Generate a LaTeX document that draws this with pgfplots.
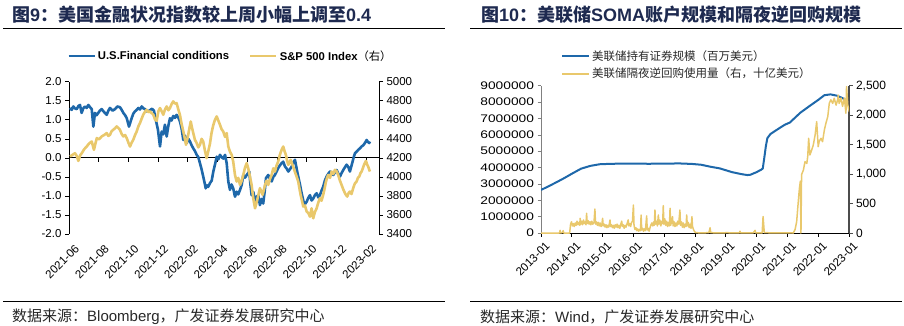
\documentclass[border=0pt]{standalone}
\usepackage{pgfplots}
\pgfplotsset{compat=1.18}
\usepackage{fontspec}
\setmainfont{Liberation Sans}
\newfontfamily\cjk{Noto Sans CJK SC}
\newfontfamily\widefont{Liberation Sans}[FakeStretch=1.25]
\definecolor{fblue}{RGB}{30,104,170}
\definecolor{fyellow}{RGB}{233,200,108}
\definecolor{tnavy}{RGB}{30,42,80}
\definecolor{ftext}{RGB}{40,40,40}

\pgfplotsset{
  lpanel/.style={at={(69pt,91pt)}, anchor=south west, scale only axis, width=310pt, height=152.3pt, xmin=0, xmax=20.88},
  rpanel/.style={at={(541pt,92pt)}, anchor=south west, scale only axis, width=308pt, height=147.3pt, xmin=0, xmax=10},
  tickfont/.style={font=\fontsize{11.5}{12}\selectfont},
}

\begin{document}
\begin{tikzpicture}
\path (0pt,0pt) rectangle (904pt,325pt);

% ---------- titles, rules, sources ----------
\node[anchor=west, inner sep=0pt, text=tnavy, font=\fontsize{18}{20}\selectfont\bfseries] at (12pt,310pt) {{\cjk 图}9{\cjk ：美国金融状况指数较上周小幅上调至}0.4};
\node[anchor=west, inner sep=0pt, text=tnavy, font=\fontsize{18}{20}\selectfont\bfseries] at (481pt,310pt) {{\cjk 图}10{\cjk ：美联储}SOMA{\cjk 账户规模和隔夜逆回购规模}};
\draw[line width=1pt] (3pt,296.7pt) -- (445pt,296.7pt);
\draw[line width=1pt] (470pt,296.7pt) -- (902pt,296.7pt);
\draw[line width=1pt] (3pt,23.3pt) -- (445pt,23.3pt);
\draw[line width=1pt] (470pt,23.3pt) -- (902pt,23.3pt);
\node[anchor=west, inner sep=0pt, text=ftext, font=\fontsize{15}{16}\selectfont] at (12pt,8pt) {{\cjk 数据来源：}Bloomberg{\cjk ，广发证券发展研究中心}};
\node[anchor=west, inner sep=0pt, text=ftext, font=\fontsize{15}{16}\selectfont] at (480pt,8pt) {{\cjk 数据来源：}Wind{\cjk ，广发证券发展研究中心}};

% ---------- left panel: zero line with ticks ----------
\begin{axis}[lpanel, ymin=-2, ymax=2, axis x line*=middle, axis y line=none,
  xtick={2,4,...,20}, xticklabels={}, tick align=outside, major tick length=4pt,
  x axis line style={line width=0.8pt, black}, xtick style={black, line width=0.6pt}]
\end{axis}

% ---------- left panel: FCI (left axis) ----------
\begin{axis}[lpanel, ymin=-2, ymax=2, axis x line*=bottom, axis y line*=left,
  x axis line style={draw=none}, xtick style={draw=none},
  xtick={0,2,...,20},
  xticklabels={2021-06,2021-08,2021-10,2021-12,2022-02,2022-04,2022-06,2022-08,2022-10,2022-12,2023-02},
  ytick={-2,-1.5,-1,-0.5,0,0.5,1,1.5,2},
  yticklabels={-2.0,-1.5,-1.0,-0.5,0.0,0.5,1.0,1.5,2.0},
  tick align=outside, major tick length=4pt,
  y axis line style={black, line width=0.6pt}, ytick style={black, line width=0.6pt},
  xticklabel style={tickfont, rotate=45, anchor=east, xshift=3pt, yshift=-12pt},
  yticklabel style={tickfont}]
\addplot[fblue, line width=2.6pt, line join=round] coordinates {
(0.07,1.31)(0.18,1.26)(0.29,1.35)(0.40,1.30)(0.52,1.28)(0.63,1.36)(0.74,1.39)(0.85,1.18)(0.96,1.30)(1.08,1.35)(1.19,1.31)(1.30,1.39)(1.42,1.33)(1.53,1.28)
(1.64,0.82)(1.75,1.18)(1.86,1.12)(1.97,1.18)(2.08,1.24)(2.20,1.28)(2.37,1.20)(2.54,1.13)(2.65,1.24)(2.76,1.31)(2.93,1.24)(3.10,1.28)(3.26,1.35)(3.43,1.33)
(3.55,1.26)(3.66,1.18)(3.78,1.12)(3.89,1.04)(4.04,0.82)(4.22,1.04)(4.33,1.16)(4.44,1.22)(4.56,1.26)(4.67,1.31)(4.78,1.27)(4.90,1.35)(5.01,1.30)(5.12,1.28)
(5.28,1.21)(5.45,1.25)(5.59,1.29)(5.72,1.24)(5.79,1.10)(5.99,0.74)(6.13,0.30)(6.24,0.69)(6.35,0.62)(6.46,0.87)(6.58,0.56)
(6.69,0.84)(6.80,1.04)(6.91,0.98)(7.02,1.10)(7.14,1.05)(7.25,1.13)(7.36,1.06)(7.47,0.96)(7.58,0.78)(7.70,0.47)(7.82,0.58)(7.93,0.39)(8.04,0.50)(8.15,0.43)(8.26,0.33)(8.37,0.25)
(8.48,0.18)(8.60,0.08)(8.71,0.02)(8.82,-0.14)(8.93,-0.30)(9.04,-0.49)(9.13,-0.65)(9.21,-0.80)(9.30,-0.72)(9.38,-0.76)(9.50,-0.66)(9.61,-0.60)(9.72,-0.36)(9.83,-0.18)(9.95,0.03)
(10.06,-0.04)(10.17,0.08)(10.28,0.02)(10.39,-0.02)(10.51,0.08)(10.62,-0.14)(10.73,-0.62)(10.84,-0.84)(10.95,-0.70)(11.06,-0.80)(11.18,-1.02)
(11.29,-0.89)(11.40,-0.96)(11.52,-0.84)(11.63,-0.71)(11.74,-0.45)(11.86,-0.52)(11.97,-0.45)(12.14,-0.36)(12.22,-0.70)(12.30,-0.98)(12.42,-0.90)(12.53,-1.15)
(12.64,-1.02)(12.75,-0.98)(12.86,-1.24)(12.97,-1.08)(13.08,-1.20)(13.18,-0.88)(13.27,-0.53)(13.42,-0.45)(13.54,-0.56)(13.65,-0.62)(13.76,-0.50)(13.87,-0.45)(13.98,-0.36)(14.09,-0.27)
(14.20,-0.20)(14.32,-0.14)(14.43,-0.10)(14.55,-0.23)(14.66,-0.28)(14.77,-0.36)(14.88,-0.30)(15.00,-0.23)(15.11,-0.12)(15.22,-0.05)(15.37,-0.36)(15.56,-0.71)(15.67,-0.93)
(15.85,-1.24)(16.01,-1.15)(16.12,-1.05)(16.23,-0.98)(16.34,-1.12)(16.45,-1.07)(16.56,-0.98)(16.68,-0.93)(16.79,-1.04)(16.90,-0.98)(17.01,-0.86)(17.12,-0.76)(17.23,-0.60)(17.35,-0.49)
(17.46,-0.42)(17.58,-0.36)(17.69,-0.40)(17.80,-0.45)(17.91,-0.38)(18.03,-0.32)(18.14,-0.42)(18.25,-0.49)(18.36,-0.40)(18.47,-0.32)(18.58,-0.25)(18.70,-0.18)(18.81,-0.24)(18.92,-0.36)(19.10,-0.10)
(19.18,0.02)(19.26,0.12)(19.37,0.16)(19.48,0.21)(19.60,0.25)(19.71,0.30)(19.82,0.33)(19.93,0.39)(20.05,0.47)(20.13,0.42)(20.22,0.39)(20.27,0.43)
};
\end{axis}

% ---------- left panel: S&P 500 (right axis) ----------
\begin{axis}[lpanel, ymin=3400, ymax=5000, axis x line=none, axis y line*=right,
  ytick={3400,3600,3800,4000,4200,4400,4600,4800,5000},
  yticklabels={3400,3600,3800,4000,4200,4400,4600,4800,5000},
  tick align=outside, major tick length=4pt,
  y axis line style={black, line width=0.6pt}, ytick style={black, line width=0.6pt},
  yticklabel style={tickfont},
  legend columns=2,
  legend style={at={(-0.006,1.169)}, anchor=west, draw=none, fill=none, inner sep=0pt,
    font=\fontsize{11.3}{12}\selectfont\bfseries,
    /tikz/every even column/.append style={column sep=18pt}},
  legend image code/.code={\draw[#1] (0pt,0pt) -- (26pt,0pt);}]
\addlegendimage{fblue, line width=2.6pt}
\addlegendentry{U.S.Financial conditions}
\addplot[fyellow, line width=2.6pt, line join=round] coordinates {
(0.07,4214)(0.24,4232)(0.40,4249)(0.52,4221)(0.63,4168)(0.75,4226)(0.86,4249)(1.02,4290)(1.19,4319)(1.36,4352)(1.53,4372)(1.68,4284)(1.78,4350)(1.87,4407)
(2.03,4395)(2.20,4425)(2.37,4440)(2.54,4460)(2.65,4430)(2.76,4442)(2.87,4480)(2.98,4495)(3.10,4510)(3.21,4530)(3.32,4515)(3.43,4495)(3.55,4450)(3.66,4425)(3.78,4440)(3.89,4407)
(4.00,4360)(4.11,4319)(4.22,4360)(4.33,4390)(4.45,4440)(4.56,4477)(4.67,4530)(4.78,4565)(4.89,4610)(5.00,4653)(5.12,4685)(5.23,4705)(5.34,4680)(5.45,4688)(5.57,4670)(5.68,4653)
(5.80,4600)(5.91,4590)(6.02,4690)(6.13,4723)(6.24,4690)(6.35,4653)(6.47,4710)(6.58,4740)(6.69,4700)(6.80,4723)(6.91,4765)(7.02,4793)(7.14,4770)(7.25,4775)(7.36,4710)(7.47,4653)
(7.58,4560)(7.70,4477)(7.79,4410)(7.88,4337)(7.96,4390)(8.03,4442)(8.12,4520)(8.20,4582)(8.28,4520)(8.37,4460)(8.48,4390)(8.60,4355)(8.71,4310)(8.82,4337)(8.93,4400)(9.04,4372)
(9.15,4280)(9.27,4197)(9.38,4270)(9.49,4345)(9.60,4460)(9.71,4540)(9.83,4600)(9.95,4635)(10.06,4590)(10.17,4547)(10.28,4500)(10.39,4477)(10.51,4420)(10.62,4460)(10.73,4319)
(10.84,4266)(10.96,4230)(11.06,4161)(11.18,4021)(11.29,3951)(11.40,3990)(11.52,3916)(11.63,3960)(11.74,4021)(11.86,4100)(11.97,4144)
(12.07,4091)(12.18,4010)(12.30,3916)(12.41,3776)(12.53,3670)(12.68,3758)(12.77,3820)(12.86,3881)(12.95,3850)(13.04,3811)(13.12,3860)(13.20,3916)
(13.31,3960)(13.42,3916)(13.54,3980)(13.65,4021)(13.76,4090)(13.87,4056)(13.98,4120)(14.09,4161)(14.20,4230)(14.32,4284)(14.43,4319)(14.52,4270)(14.61,4230)(14.69,4170)(14.77,4126)
(14.85,4150)(14.93,4179)(15.02,4140)(15.10,4109)(15.20,4060)(15.29,4021)(15.36,3990)(15.44,3951)(15.52,3880)(15.60,3811)(15.69,3750)(15.78,3688)(15.89,3700)(16.01,3635)(16.12,3620)(16.23,3582)
(16.34,3670)(16.45,3565)(16.56,3630)(16.68,3670)(16.79,3730)(16.90,3776)(17.01,3750)(17.12,3811)(17.22,3880)(17.31,3951)(17.38,3990)(17.46,4021)(17.58,3990)(17.69,4056)
(17.80,4030)(17.91,4074)(18.02,4060)(18.13,4021)(18.25,3960)(18.36,3916)(18.47,3870)(18.59,3828)(18.66,3810)(18.74,3793)(18.83,3830)(18.92,3846)(19.03,3820)(19.14,3881)(19.25,3930)(19.37,3951)
(19.46,3990)(19.55,4003)(19.63,4040)(19.71,4056)(19.79,4090)(19.87,4126)(19.94,4150)(20.00,4168)(20.08,4130)(20.15,4109)(20.21,4080)(20.27,4056)
};
\addlegendentry{S\&P 500 Index{\cjk\mdseries （右）}}
\end{axis}

% ---------- right panel: SOMA (left axis; x = years since 2013-01, y in 10^6 of millions USD) ----------
\begin{axis}[rpanel, ymin=0, ymax=9, axis x line*=bottom, axis y line*=left,
  scaled y ticks=false, scaled x ticks=false,
  xtick={0,1,2,3,4,5,6,7,8,9,10},
  xticklabels={2013-01,2014-01,2015-01,2016-01,2017-01,2018-01,2019-01,2020-01,2021-01,2022-01,2023-01},
  ytick={0,1,2,3,4,5,6,7,8,9},
  yticklabels={0,1000000,2000000,3000000,4000000,5000000,6000000,7000000,8000000,9000000},
  tick align=outside, major tick length=3.5pt,
  x axis line style={black, line width=0.7pt}, xtick style={black, line width=0.7pt},
  y axis line style={gray, line width=0.6pt}, ytick style={gray, line width=0.6pt},
  xticklabel style={tickfont, rotate=45, anchor=east, xshift=3pt, yshift=-10pt},
  yticklabel style={font=\fontsize{11}{12}\widefont}]
\addplot[fblue, line width=2pt, line join=round] coordinates {
(0.00,2.63)(0.25,2.86)(0.50,3.10)(0.75,3.35)(1.00,3.62)(1.30,3.93)
(1.60,4.10)(1.90,4.20)(2.30,4.23)(3.00,4.24)(3.50,4.23)(4.00,4.24)
(4.50,4.25)(4.90,4.22)(5.20,4.17)(5.50,4.05)(5.80,3.95)(6.20,3.72)
(6.50,3.60)(6.70,3.54)(6.80,3.56)(7.00,3.72)(7.15,3.87)(7.20,3.94)
(7.25,4.60)(7.30,5.30)(7.35,5.80)(7.45,6.05)(7.75,6.42)(7.92,6.62)(8.08,6.75)
(8.42,7.35)(8.75,7.80)(9.00,8.13)(9.20,8.42)(9.40,8.47)(9.63,8.38)
(9.85,8.18)(10.00,7.98)
};
\end{axis}

% ---------- right panel: ON RRP (right axis, billions USD) ----------
\begin{axis}[rpanel, ymin=0, ymax=2500, axis x line=none, axis y line*=right,
  scaled y ticks=false,
  ytick={0,500,1000,1500,2000,2500},
  yticklabels={0,500,{1,000},{1,500},{2,000},{2,500}},
  tick align=outside, major tick length=3.5pt,
  y axis line style={black!70, line width=1.2pt}, ytick style={black!70, line width=0.8pt},
  yticklabel style={font=\fontsize{12}{12}\selectfont},
  legend style={at={(0.065,1.14)}, anchor=west, draw=none, fill=none, inner sep=0pt,
    font=\fontsize{11.5}{12}\cjk, text=ftext, row sep=2pt},
  legend cell align=left,
  legend image code/.code={\draw[#1] (0pt,0pt) -- (27pt,0pt);}]
\addlegendimage{fblue, line width=2pt}
\addlegendentry{美联储持有证券规模（百万美元）}
\addplot[fyellow, line width=1.5pt, line join=round] coordinates {
(0.00,0)(0.60,0)(0.62,45)(0.64,0)(0.70,10)(0.72,40)(0.74,0)(0.93,0)
(0.96,150)(0.99,190)(1.02,120)(1.05,160)(1.08,110)(1.11,170)(1.14,130)(1.17,200)(1.20,140)(1.23,180)(1.26,130)(1.27,250)
(1.29,150)(1.32,200)(1.35,140)(1.38,220)(1.41,160)(1.44,190)(1.46,140)(1.48,334)(1.50,160)(1.53,210)(1.56,150)(1.59,190)
(1.62,140)(1.65,200)(1.68,150)(1.72,180)(1.75,407)(1.77,150)(1.80,190)(1.83,130)(1.86,180)(1.89,120)(1.92,170)(1.95,110)
(1.98,160)(2.00,250)(2.02,120)(2.05,150)(2.08,100)(2.11,140)(2.14,90)(2.17,130)(2.20,100)(2.24,220)(2.26,110)(2.29,140)
(2.32,90)(2.35,130)(2.38,80)(2.41,140)(2.44,100)(2.47,150)(2.50,90)(2.53,130)(2.56,80)(2.59,150)(2.62,200)(2.64,110)
(2.67,140)(2.70,80)(2.73,130)(2.76,100)(2.79,150)(2.83,221)(2.85,120)(2.88,160)(2.91,110)(2.94,180)(2.97,200)(3.00,475)
(3.02,130)(3.05,60)(3.08,90)(3.11,40)(3.14,70)(3.17,30)(3.20,60)(3.23,40)(3.25,305)(3.27,50)(3.30,80)(3.33,30)
(3.36,70)(3.39,40)(3.43,290)(3.45,50)(3.48,80)(3.51,30)(3.54,90)(3.57,140)(3.60,170)(3.63,120)(3.66,190)(3.68,130)
(3.70,390)(3.72,150)(3.75,200)(3.78,120)(3.81,306)(3.83,150)(3.86,220)(3.89,120)(3.92,200)(3.95,160)(3.97,464)(3.99,150)
(4.02,240)(4.05,130)(4.08,200)(4.11,110)(4.14,180)(4.17,120)(4.19,419)(4.21,130)(4.24,200)(4.27,277)(4.29,120)(4.32,190)
(4.35,110)(4.38,170)(4.41,120)(4.44,200)(4.47,150)(4.51,390)(4.53,130)(4.56,190)(4.59,100)(4.62,170)(4.65,90)(4.68,150)
(4.71,110)(4.73,306)(4.75,120)(4.78,180)(4.81,90)(4.84,150)(4.87,80)(4.90,277)(4.92,110)(4.95,60)(4.98,30)(5.01,10)
(5.05,5)(5.20,3)(5.45,5)(5.49,90)(5.51,5)(5.80,2)(6.03,5)(6.30,2)(6.44,3)
(6.46,30)(6.48,2)(6.89,3)(6.95,45)(6.97,2)(7.18,0)(7.21,280)(7.25,5)
(8.19,0)(8.25,60)(8.30,190)(8.34,450)(8.39,760)(8.42,880)(8.44,0)(8.46,990)
(8.52,1070)(8.57,1210)(8.63,1180)(8.66,1300)(8.69,1608)(8.73,1324)(8.79,1410)(8.84,1494)
(8.90,1664)(8.95,1890)(9.00,1465)(9.03,1550)(9.09,1608)(9.14,1550)(9.20,1749)(9.25,1862)
(9.31,1975)(9.36,2202)(9.41,2260)(9.47,2200)(9.52,2287)(9.58,2170)(9.63,2260)(9.65,2340)(9.68,2200)
(9.74,2290)(9.79,2150)(9.85,2290)(9.90,2032)(9.92,2484)(9.96,2170)(10.01,2060)(10.05,2120)
};
\addlegendentry{美联储隔夜逆回购使用量（右，十亿美元）}
\end{axis}

\pgfresetboundingbox
\useasboundingbox (0pt,0pt) rectangle (904pt,325pt);
\end{tikzpicture}
\end{document}
